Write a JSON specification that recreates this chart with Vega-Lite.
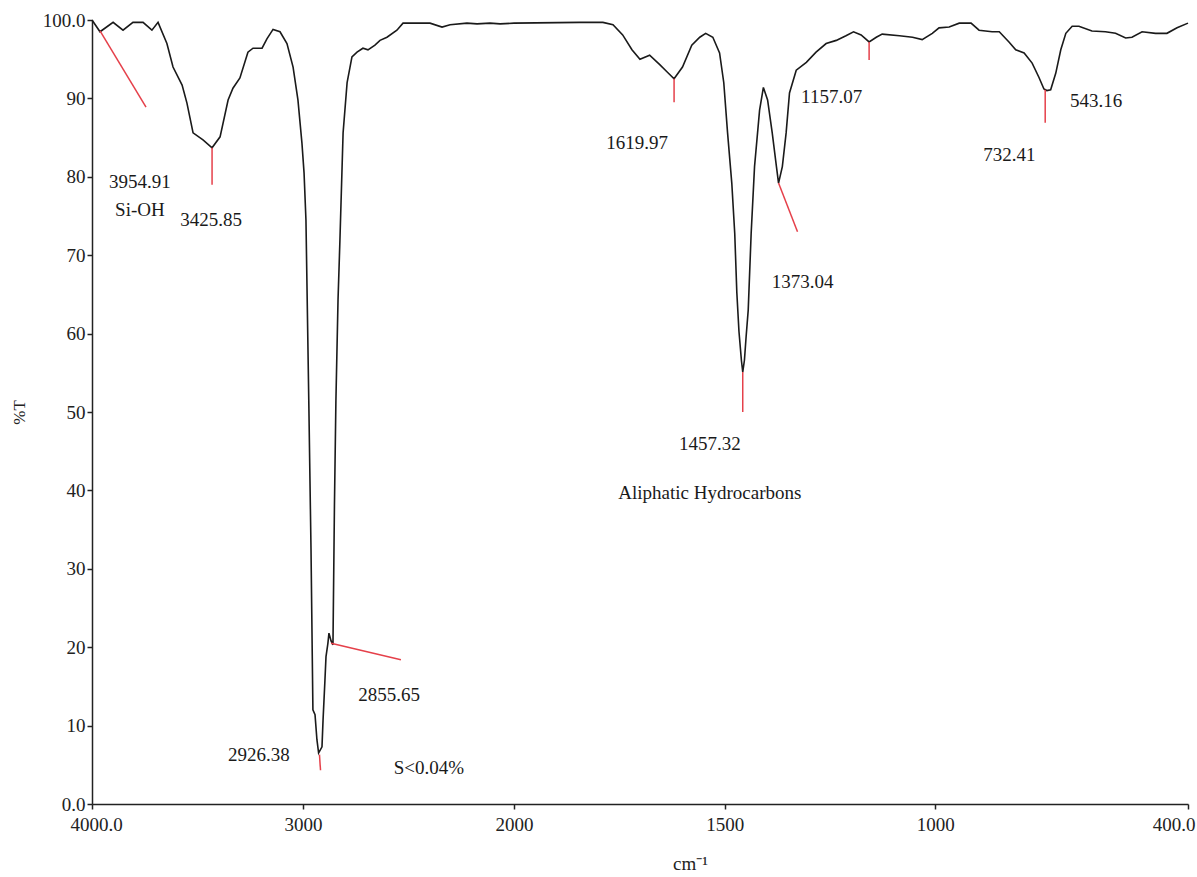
{
  "$schema": "https://vega.github.io/schema/vega-lite/v6.json",
  "width": 1096,
  "height": 784,
  "autosize": {"type": "none"},
  "padding": {"left": 92, "top": 20, "right": 9, "bottom": 73},
  "background": "white",
  "config": {
    "view": {"stroke": null},
    "font": "Liberation Serif",
    "axis": {"grid": false, "domainColor": "#222", "domainWidth": 1.5, "tickColor": "#222", "tickWidth": 1.5, "tickSize": 5, "labelFont": "Liberation Serif", "labelFontSize": 19, "labelColor": "#222", "titleFont": "Liberation Serif", "titleFontWeight": "normal", "titleColor": "#222"}
  },
  "datasets": {
    "spectrum": [
      {"wn": 4000, "t": 100}, {"wn": 3962, "t": 98.5}, {"wn": 3900, "t": 99.7}, {"wn": 3853, "t": 98.7},
      {"wn": 3806, "t": 99.7}, {"wn": 3758, "t": 99.7}, {"wn": 3716, "t": 98.7}, {"wn": 3687, "t": 99.7},
      {"wn": 3645, "t": 97.0}, {"wn": 3616, "t": 94.0}, {"wn": 3573, "t": 91.7}, {"wn": 3550, "t": 89.4},
      {"wn": 3521, "t": 85.6}, {"wn": 3474, "t": 84.7}, {"wn": 3431, "t": 83.7}, {"wn": 3393, "t": 85.1},
      {"wn": 3355, "t": 89.8}, {"wn": 3332, "t": 91.3}, {"wn": 3299, "t": 92.6}, {"wn": 3261, "t": 95.9},
      {"wn": 3237, "t": 96.4}, {"wn": 3194, "t": 96.4}, {"wn": 3171, "t": 97.6}, {"wn": 3142, "t": 98.8},
      {"wn": 3109, "t": 98.5}, {"wn": 3076, "t": 97.0}, {"wn": 3047, "t": 94.0}, {"wn": 3024, "t": 89.8},
      {"wn": 3005, "t": 84.3}, {"wn": 2995, "t": 80.5}, {"wn": 2986, "t": 74.5}, {"wn": 2972, "t": 50.4},
      {"wn": 2962, "t": 32.4}, {"wn": 2953, "t": 12.0}, {"wn": 2943, "t": 11.4}, {"wn": 2934, "t": 8.2},
      {"wn": 2926, "t": 6.5}, {"wn": 2910, "t": 7.3}, {"wn": 2905, "t": 10.7}, {"wn": 2896, "t": 15.8},
      {"wn": 2891, "t": 18.8}, {"wn": 2882, "t": 20.5}, {"wn": 2877, "t": 21.8}, {"wn": 2867, "t": 20.8},
      {"wn": 2858, "t": 20.3}, {"wn": 2851, "t": 38.0}, {"wn": 2844, "t": 51.5}, {"wn": 2834, "t": 64.3},
      {"wn": 2825, "t": 71.9}, {"wn": 2810, "t": 85.6}, {"wn": 2791, "t": 92.0}, {"wn": 2768, "t": 95.3},
      {"wn": 2744, "t": 95.9}, {"wn": 2716, "t": 96.4}, {"wn": 2692, "t": 96.2}, {"wn": 2659, "t": 96.8},
      {"wn": 2635, "t": 97.4}, {"wn": 2602, "t": 97.8}, {"wn": 2555, "t": 98.7}, {"wn": 2526, "t": 99.6},
      {"wn": 2398, "t": 99.6}, {"wn": 2341, "t": 99.1}, {"wn": 2303, "t": 99.4}, {"wn": 2223, "t": 99.6},
      {"wn": 2175, "t": 99.5}, {"wn": 2114, "t": 99.6}, {"wn": 2066, "t": 99.5}, {"wn": 2000, "t": 99.6},
      {"wn": 1844, "t": 99.7}, {"wn": 1789, "t": 99.7}, {"wn": 1765, "t": 99.4}, {"wn": 1742, "t": 98.1},
      {"wn": 1720, "t": 96.2}, {"wn": 1701, "t": 95.0}, {"wn": 1678, "t": 95.5}, {"wn": 1654, "t": 94.3},
      {"wn": 1637, "t": 93.4}, {"wn": 1620, "t": 92.5}, {"wn": 1600, "t": 94.0}, {"wn": 1578, "t": 96.8},
      {"wn": 1559, "t": 97.8}, {"wn": 1545, "t": 98.3}, {"wn": 1528, "t": 97.8}, {"wn": 1512, "t": 95.8},
      {"wn": 1502, "t": 92.0}, {"wn": 1493, "t": 85.6}, {"wn": 1483, "t": 79.2}, {"wn": 1476, "t": 72.8},
      {"wn": 1471, "t": 65.2}, {"wn": 1466, "t": 60.3}, {"wn": 1460, "t": 56.5}, {"wn": 1457, "t": 55.1},
      {"wn": 1453, "t": 56.6}, {"wn": 1449, "t": 59.6}, {"wn": 1444, "t": 63.0}, {"wn": 1441, "t": 67.2},
      {"wn": 1437, "t": 72.8}, {"wn": 1429, "t": 81.3}, {"wn": 1417, "t": 88.5}, {"wn": 1408, "t": 91.4},
      {"wn": 1398, "t": 89.8}, {"wn": 1387, "t": 85.6}, {"wn": 1377, "t": 81.3}, {"wn": 1372, "t": 79.2},
      {"wn": 1363, "t": 81.3}, {"wn": 1354, "t": 85.6}, {"wn": 1346, "t": 90.7}, {"wn": 1330, "t": 93.6},
      {"wn": 1306, "t": 94.6}, {"wn": 1283, "t": 95.9}, {"wn": 1259, "t": 97.0}, {"wn": 1235, "t": 97.4},
      {"wn": 1212, "t": 98.0}, {"wn": 1194, "t": 98.5}, {"wn": 1176, "t": 98.1}, {"wn": 1157, "t": 97.2},
      {"wn": 1140, "t": 97.8}, {"wn": 1126, "t": 98.2}, {"wn": 1085, "t": 98.0}, {"wn": 1054, "t": 97.8},
      {"wn": 1031, "t": 97.5}, {"wn": 1007, "t": 98.3}, {"wn": 991, "t": 99.0}, {"wn": 967, "t": 99.1},
      {"wn": 943, "t": 99.6}, {"wn": 915, "t": 99.6}, {"wn": 896, "t": 98.7}, {"wn": 865, "t": 98.5},
      {"wn": 848, "t": 98.5}, {"wn": 825, "t": 97.2}, {"wn": 809, "t": 96.2}, {"wn": 789, "t": 95.8},
      {"wn": 770, "t": 94.5}, {"wn": 754, "t": 92.7}, {"wn": 742, "t": 91.2}, {"wn": 735, "t": 91.0},
      {"wn": 726, "t": 91.1}, {"wn": 714, "t": 93.2}, {"wn": 702, "t": 96.2}, {"wn": 690, "t": 98.3},
      {"wn": 675, "t": 99.2}, {"wn": 659, "t": 99.2}, {"wn": 628, "t": 98.6}, {"wn": 596, "t": 98.5},
      {"wn": 572, "t": 98.3}, {"wn": 548, "t": 97.7}, {"wn": 533, "t": 97.8}, {"wn": 509, "t": 98.5},
      {"wn": 477, "t": 98.3}, {"wn": 450, "t": 98.3}, {"wn": 426, "t": 99.0}, {"wn": 400, "t": 99.6}
    ],
    "markers": [
      {"wn": 3962, "t": 98.6, "wn2": 3744, "t2": 88.9},
      {"wn": 3431, "t": 83.7, "wn2": 3431, "t2": 79.0},
      {"wn": 2922, "t": 6.3, "wn2": 2917, "t2": 4.3},
      {"wn": 2867, "t": 20.5, "wn2": 2536, "t2": 18.4},
      {"wn": 1620, "t": 92.5, "wn2": 1620, "t2": 89.5},
      {"wn": 1457, "t": 55.1, "wn2": 1457, "t2": 50.0},
      {"wn": 1372, "t": 79.2, "wn2": 1327, "t2": 73.0},
      {"wn": 1157, "t": 97.2, "wn2": 1157, "t2": 94.9},
      {"wn": 739, "t": 91.1, "wn2": 739, "t2": 86.9}
    ],
    "labels": [
      {"wn": 3773, "t": 79.3, "text": "3954.91"},
      {"wn": 3773, "t": 75.8, "text": "Si-OH"},
      {"wn": 3436, "t": 74.5, "text": "3425.85"},
      {"wn": 3209, "t": 6.3, "text": "2926.38"},
      {"wn": 2592, "t": 13.9, "text": "2855.65"},
      {"wn": 2403, "t": 4.6, "text": "S<0.04%"},
      {"wn": 1708, "t": 84.3, "text": "1619.97"},
      {"wn": 1535, "t": 45.9, "text": "1457.32"},
      {"wn": 1535, "t": 39.7, "text": "Aliphatic Hydrocarbons"},
      {"wn": 1315, "t": 66.6, "text": "1373.04"},
      {"wn": 1246, "t": 90.2, "text": "1157.07"},
      {"wn": 824, "t": 82.8, "text": "732.41"},
      {"wn": 618, "t": 89.7, "text": "543.16"}
    ]
  },
  "layer": [
    {
      "data": {"name": "spectrum"},
      "mark": {"type": "line", "color": "#1a1a1a", "strokeWidth": 1.6, "interpolate": "linear"},
      "encoding": {
        "x": {"field": "wn", "type": "quantitative",
          "scale": {"type": "linear", "domain": [4000, 2000, 400], "range": [0, 422, 1096], "nice": false, "zero": false},
          "axis": {"values": [4000, 3000, 2000, 1500, 1000, 400], "labelExpr": "datum.value == 4000 || datum.value == 400 ? format(datum.value, '.1f') : format(datum.value, 'd')", "labelPadding": 6, "title": "cm⁻¹", "titleFontSize": 19, "titleX": 598, "titleY": 65, "titleBaseline": "alphabetic", "labelFlush": false, "labelOverlap": false,
            "labelAlign": {"condition": {"test": "datum.value == 400", "value": "right"}, "value": "center"},
            "labelOffset": {"condition": [{"test": "datum.value == 400", "value": 7}, {"test": "datum.value == 4000", "value": 4}], "value": 0}}},
        "y": {"field": "t", "type": "quantitative",
          "scale": {"domain": [0, 100], "nice": false, "zero": false},
          "axis": {"values": [0, 10, 20, 30, 40, 50, 60, 70, 80, 90, 100], "labelExpr": "datum.value == 0 || datum.value == 100 ? format(datum.value, '.1f') : format(datum.value, 'd')", "labelPadding": 2, "title": "%T", "titleFontSize": 17, "titleX": -73, "titleY": 392, "titleAngle": -90, "titleBaseline": "middle", "titleAlign": "center"}}
      }
    },
    {
      "data": {"name": "markers"},
      "mark": {"type": "rule", "color": "#e5404a", "strokeWidth": 1.5},
      "encoding": {
        "x": {"field": "wn", "type": "quantitative"},
        "y": {"field": "t", "type": "quantitative"},
        "x2": {"field": "wn2"},
        "y2": {"field": "t2"}
      }
    },
    {
      "data": {"name": "labels"},
      "mark": {"type": "text", "font": "Liberation Serif", "fontSize": 19, "color": "#1a1a1a", "align": "center", "baseline": "middle"},
      "encoding": {
        "x": {"field": "wn", "type": "quantitative"},
        "y": {"field": "t", "type": "quantitative"},
        "text": {"field": "text"}
      }
    }
  ]
}
